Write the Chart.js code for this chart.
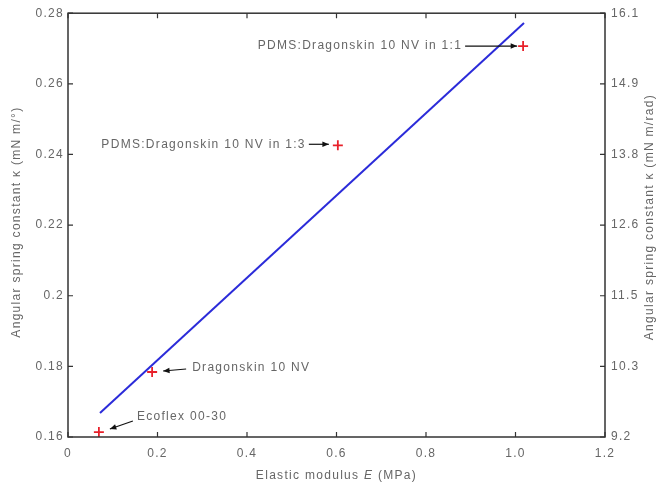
<!DOCTYPE html>
<html>
<head>
<meta charset="utf-8">
<script src="https://cdn.jsdelivr.net/npm/chart.js@4"></script>
<style>
  html, body { margin: 0; padding: 0; background: #fff; }
  #wrap { width: 657px; height: 490px; }
</style>
</head>
<body>
<div id="wrap"><canvas id="chart" width="657" height="490"></canvas></div>
<script>
// measured points (elastic modulus vs spring constant)
const materials = ["Ecoflex 00-30", "Dragonskin 10 NV", "PDMS:Dragonskin 10 NV in 1:3", "PDMS:Dragonskin 10 NV in 1:1"];
const modulus = [0.069, 0.188, 0.603, 1.017];
const kappa = [0.1614, 0.1784, 0.2426, 0.2707];

// linear fit line
const fitX = [0.0715, 1.019];
const fitY = [0.1668, 0.2772];

// ticks
const xTicks = [0, 0.2, 0.4, 0.6, 0.8, 1.0, 1.2];
const xTickLabels = ["0", "0.2", "0.4", "0.6", "0.8", "1.0", "1.2"];
const yTicks = [0.16, 0.18, 0.20, 0.22, 0.24, 0.26, 0.28];
const yTickLabels = ["0.16", "0.18", "0.2", "0.22", "0.24", "0.26", "0.28"];
const y2TickLabels = ["9.2", "10.3", "11.5", "12.6", "13.8", "14.9", "16.1"];
const y2Min = 9.2, y2Max = 16.1;

const FONT = "Liberation Sans, Arial, sans-serif";
const GREY = "#666";
const SPACING = "1.3px";

// label offsets from each point: text anchor (dx, dy), arrow start (ax, ay) and tip (tx, ty)
const notes = [
  { i: 0, side: "right", dx: 38, dy: -15, ax: -4, ay: 4, tx: 11, ty: -3 },
  { i: 1, side: "right", dx: 40, dy: -4, ax: -6, ay: 1, tx: 11, ty: -1 },
  { i: 2, side: "left", dx: -32, dy: -1, ax: 3, ay: 0, tx: -9, ty: -1 },
  { i: 3, side: "left", dx: -61, dy: 0, ax: 3, ay: 0, tx: -6, ty: 0 }
];

function arrow(ctx, x1, y1, x2, y2) {
  ctx.beginPath();
  ctx.moveTo(x1, y1);
  ctx.lineTo(x2, y2);
  ctx.stroke();
  const a = Math.atan2(y2 - y1, x2 - x1);
  ctx.beginPath();
  ctx.moveTo(x2, y2);
  ctx.lineTo(x2 - 7 * Math.cos(a - 0.4), y2 - 7 * Math.sin(a - 0.4));
  ctx.lineTo(x2 - 7 * Math.cos(a + 0.4), y2 - 7 * Math.sin(a + 0.4));
  ctx.closePath();
  ctx.fill();
}

const framePlugin = {
  id: "frame",
  beforeDraw(chart) {
    chart.ctx.letterSpacing = SPACING;
  },
  afterDraw(chart) {
    const { ctx, chartArea: a, scales } = chart;
    ctx.save();
    ctx.letterSpacing = SPACING;
    ctx.strokeStyle = "#333";
    ctx.lineWidth = 1.5;
    ctx.strokeRect(a.left, a.top, a.right - a.left, a.bottom - a.top);
    ctx.lineWidth = 1.2;
    ctx.beginPath();
    xTicks.forEach(v => {
      const px = scales.x.getPixelForValue(v);
      ctx.moveTo(px, a.bottom); ctx.lineTo(px, a.bottom - 5);
      ctx.moveTo(px, a.top); ctx.lineTo(px, a.top + 5);
    });
    yTicks.forEach(v => {
      const py = scales.y.getPixelForValue(v);
      ctx.moveTo(a.left, py); ctx.lineTo(a.left + 5, py);
      ctx.moveTo(a.right, py); ctx.lineTo(a.right - 5, py);
    });
    ctx.stroke();

    // annotations
    ctx.font = "12px " + FONT;
    ctx.textBaseline = "middle";
    ctx.strokeStyle = "#111";
    notes.forEach(n => {
      const px = scales.x.getPixelForValue(modulus[n.i]);
      const py = scales.y.getPixelForValue(kappa[n.i]);
      const tx = px + n.dx, ty = py + n.dy;
      ctx.fillStyle = GREY;
      ctx.textAlign = n.side === "left" ? "right" : "left";
      ctx.fillText(materials[n.i], tx, ty);
      ctx.fillStyle = "#111";
      arrow(ctx, tx + n.ax, ty + n.ay, px + n.tx, py + n.ty);
    });

    // axis titles
    ctx.fillStyle = GREY;
    const cx = (a.left + a.right) / 2;
    const p1 = "Elastic modulus ", p2 = "E", p3 = " (MPa)";
    ctx.font = "12px " + FONT;
    const w1 = ctx.measureText(p1).width, w3 = ctx.measureText(p3).width;
    ctx.font = "italic 12px " + FONT;
    const w2 = ctx.measureText(p2).width;
    let sx = cx - (w1 + w2 + w3) / 2;
    ctx.textAlign = "left";
    ctx.font = "12px " + FONT;
    ctx.fillText(p1, sx, 476);
    ctx.font = "italic 12px " + FONT;
    ctx.fillText(p2, sx + w1, 476);
    ctx.font = "12px " + FONT;
    ctx.fillText(p3, sx + w1 + w2, 476);

    const cy = (a.top + a.bottom) / 2;
    ctx.textAlign = "center";
    ctx.save();
    ctx.translate(17, cy - 3);
    ctx.rotate(-Math.PI / 2);
    ctx.fillText("Angular spring constant \u03BA (mN m/\u00B0)", 0, 0);
    ctx.restore();
    ctx.save();
    ctx.translate(650, cy - 8);
    ctx.rotate(-Math.PI / 2);
    ctx.fillText("Angular spring constant \u03BA (mN m/rad)", 0, 0);
    ctx.restore();
    ctx.restore();
  }
};

const tickFont = { family: FONT, size: 12 };
const noGrid = { display: false, drawTicks: false };

new Chart(document.getElementById("chart"), {
  type: "scatter",
  data: {
    datasets: [
      {
        label: "fit",
        type: "line",
        data: fitX.map((x, i) => ({ x: x, y: fitY[i] })),
        borderColor: "#2b2bd9",
        borderWidth: 2,
        pointRadius: 0,
        fill: false
      },
      {
        label: "measured",
        data: modulus.map((x, i) => ({ x: x, y: kappa[i] })),
        pointStyle: "cross",
        pointRadius: 5,
        pointBorderWidth: 1.8,
        borderColor: "#e8202a",
        backgroundColor: "#e8202a"
      }
    ]
  },
  options: {
    responsive: false,
    animation: false,
    layout: { padding: { top: 13, right: 0, bottom: 0, left: 0 } },
    plugins: { legend: { display: false }, tooltip: { enabled: false } },
    scales: {
      x: {
        type: "linear", min: 0, max: 1.2,
        grid: noGrid, border: { display: false },
        afterBuildTicks: s => { s.ticks = xTicks.map(v => ({ value: v })); },
        afterFit: s => { s.height = 53; },
        ticks: {
          color: GREY, font: tickFont, padding: 9,
          maxRotation: 0, autoSkip: false,
          callback: (v, i) => xTickLabels[i]
        }
      },
      y: {
        type: "linear", position: "left", min: 0.16, max: 0.28,
        grid: noGrid, border: { display: false },
        afterBuildTicks: s => { s.ticks = yTicks.map(v => ({ value: v })); },
        afterFit: s => { s.width = 68; },
        ticks: {
          color: GREY, font: tickFont, padding: 4, autoSkip: false,
          callback: (v, i) => yTickLabels[i]
        }
      },
      y2: {
        type: "linear", position: "right", min: y2Min, max: y2Max,
        grid: noGrid, border: { display: false },
        afterBuildTicks: s => {
          s.ticks = yTicks.map(v => ({ value: y2Min + (v - 0.16) / 0.12 * (y2Max - y2Min) }));
        },
        afterFit: s => { s.width = 52; },
        ticks: {
          color: GREY, font: tickFont, padding: 6, autoSkip: false,
          callback: (v, i) => y2TickLabels[i]
        }
      }
    }
  },
  plugins: [framePlugin]
});
</script>
</body>
</html>
